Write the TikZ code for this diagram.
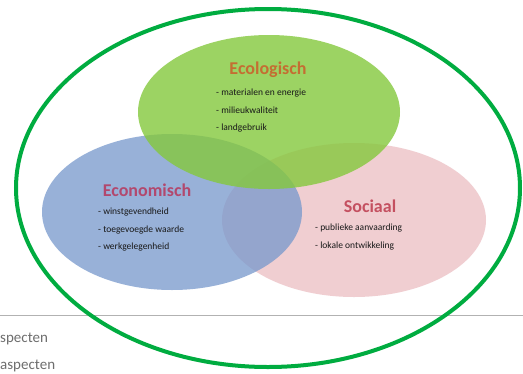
\documentclass[tikz,border=0pt]{standalone}
\usepackage{fontspec}
\setmainfont{Carlito}
\definecolor{ecogreen}{RGB}{132,200,60}
\definecolor{econblue}{RGB}{118,152,204}
\definecolor{socpink}{RGB}{238,198,202}
\definecolor{ringgreen}{RGB}{0,172,64}
\definecolor{ecotitle}{RGB}{196,110,50}
\definecolor{econtitle}{RGB}{178,72,110}
\definecolor{soctitle}{RGB}{196,80,96}
\definecolor{itemtext}{RGB}{25,25,25}
\definecolor{footgray}{RGB}{110,110,110}
\begin{document}
\begin{tikzpicture}[x=1pt,y=-1pt,
  title/.style={font=\bfseries\fontsize{18}{18}\selectfont},
  itemlist/.style={font=\fontsize{9.5}{17.5}\selectfont, color=itemtext, align=left, anchor=north west, inner sep=0pt},
  foot/.style={font=\fontsize{15}{15}\selectfont, color=footgray, anchor=west, inner sep=0pt}]
\useasboundingbox (0,0) rectangle (523,373);
\fill[white] (0,0) rectangle (523,373);
% gray separator
\draw[gray!60, line width=1pt] (0,315) -- (523,315);
\node[foot] (f1) at (0,339) {specten};
\node[foot] (f2) at (0,366) {aspecten};
% sets
\fill[socpink, opacity=0.85] (354,220) ellipse [x radius=132, y radius=77];
\fill[econblue, opacity=0.75] (172,212) ellipse [x radius=130, y radius=78];
\fill[ecogreen, opacity=0.8] (269,112) ellipse [x radius=131, y radius=77];
% titles
\node[title, color=ecotitle] (eco) at (268,70) {Ecologisch};
\node[title, color=econtitle] (econ) at (147,190) {Economisch};
\node[title, color=soctitle] (soc) at (370,206) {Sociaal};
% items
\node[itemlist] (ecoitems) at (216,89) {- materialen en energie\\- milieukwaliteit\\- landgebruik};
\node[itemlist] (econitems) at (98,208) {- winstgevendheid\\- toegevoegde waarde\\- werkgelegenheid};
\node[itemlist] (socitems) at (315,224) {- publieke aanvaarding\\- lokale ontwikkeling};
% outer ring
\draw[ringgreen, line width=4pt] (268,188) ellipse [x radius=252, y radius=179];
\end{tikzpicture}
\end{document}
